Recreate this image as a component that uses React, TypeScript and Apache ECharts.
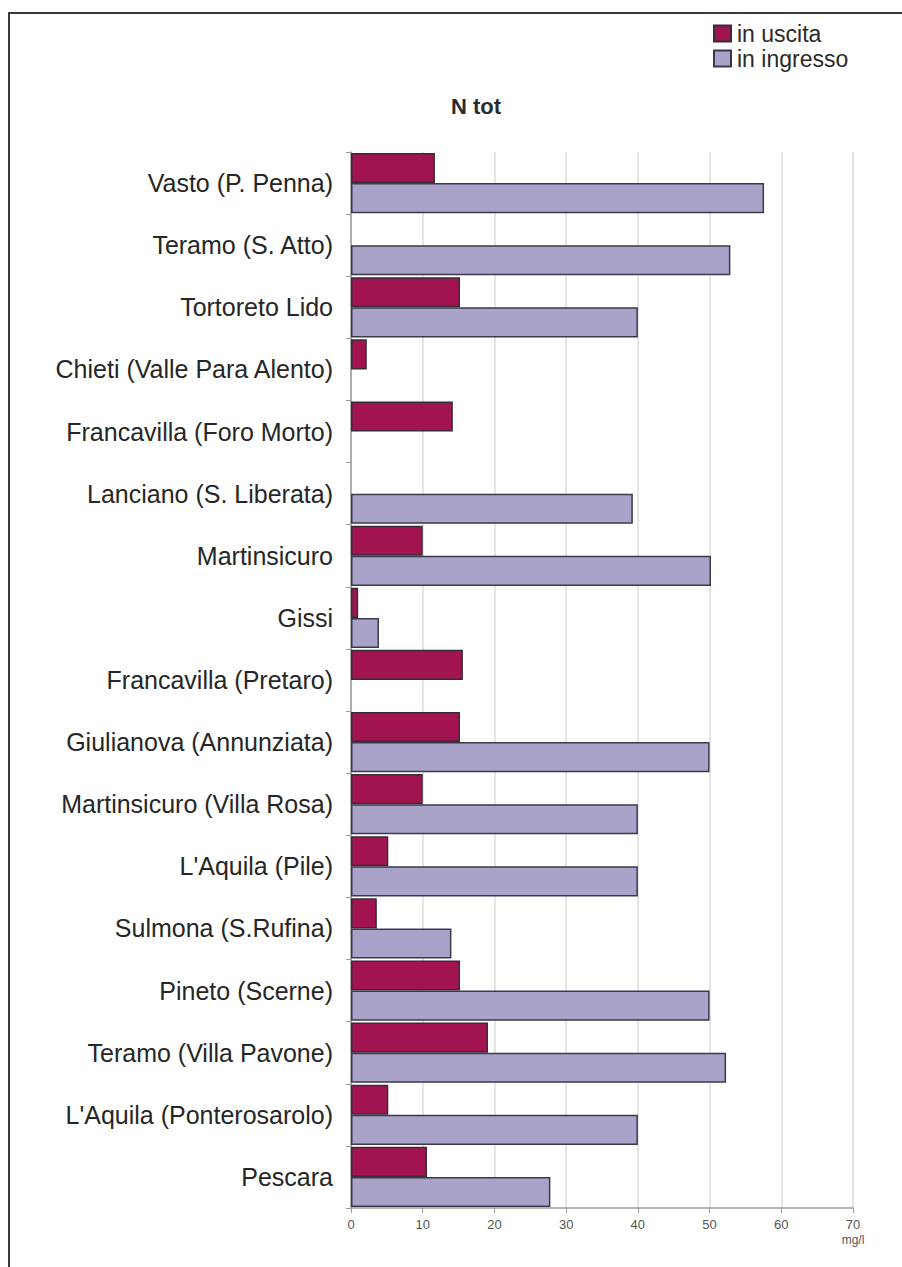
import React, { useEffect, useRef } from "react";
import * as echarts from "echarts";

const categories = [
  "Vasto (P. Penna)",
  "Teramo (S. Atto)",
  "Tortoreto Lido",
  "Chieti (Valle Para Alento)",
  "Francavilla (Foro Morto)",
  "Lanciano (S. Liberata)",
  "Martinsicuro",
  "Gissi",
  "Francavilla (Pretaro)",
  "Giulianova (Annunziata)",
  "Martinsicuro (Villa Rosa)",
  "L'Aquila (Pile)",
  "Sulmona (S.Rufina)",
  "Pineto (Scerne)",
  "Teramo (Villa Pavone)",
  "L'Aquila (Ponterosarolo)",
  "Pescara",
];

const inUscita: (number | null)[] = [
  11.7, null, 15.2, 2.2, 14.2, null, 10, 1, 15.6, 15.2, 10, 5.2, 3.6, 15.2, 19.1, 5.2, 10.6,
];

const inIngresso: (number | null)[] = [
  57.6, 52.9, 40, null, null, 39.3, 50.2, 3.9, null, 50, 40, 40, 14, 50, 52.3, 40, 27.8,
];

const xTicks = [0, 10, 20, 30, 40, 50, 60, 70];

const FONT = "'Liberation Sans', Arial, sans-serif";

export default function App() {
  const ref = useRef<HTMLDivElement>(null);

  useEffect(() => {
    if (!ref.current) return;
    const chart = echarts.init(ref.current, null, { renderer: "svg" });
    chart.setOption({
      animation: false,
      backgroundColor: "#ffffff",
      textStyle: { fontFamily: FONT },
      title: {
        text: "N tot",
        left: 446,
        top: 90,
        textStyle: { fontFamily: FONT, fontSize: 22, fontWeight: "bold", color: "#2a2a2a" },
      },
      legend: {
        orient: "vertical",
        left: 713,
        top: 22,
        padding: 0,
        itemWidth: 17,
        itemHeight: 16,
        itemGap: 2,
        icon: "rect",
        textStyle: {
          fontFamily: FONT,
          fontSize: 23,
          lineHeight: 20,
          color: "#2a2a2a",
          padding: [0, 0, 0, 1],
        },
        data: ["in uscita", "in ingresso"],
      },
      graphic: [
        {
          type: "polyline",
          shape: { points: [[9, 1300], [9, 13], [1000, 13]] },
          style: { stroke: "#3a3a3a", lineWidth: 2, fill: "none" },
          silent: true,
        },
      ],
      grid: { left: 351, right: 49, top: 152, bottom: 59, containLabel: false },
      xAxis: {
        type: "value",
        min: 0,
        max: 70,
        interval: 10,
        axisLine: { show: true, lineStyle: { color: "#9a9a9a", width: 1.5 } },
        axisTick: { show: true, length: 5, lineStyle: { color: "#9a9a9a" } },
        splitLine: { show: true, lineStyle: { color: "#dcdcdc", width: 1.5 } },
        axisLabel: {
          fontFamily: FONT,
          fontSize: 13,
          color: "#555",
          margin: 10,
          formatter: (v: number) => (xTicks.includes(v) ? String(v) : ""),
        },
        name: "mg/l",
        nameLocation: "end",
        nameGap: 0,
        nameTextStyle: {
          fontFamily: FONT,
          fontSize: 12,
          color: "#555",
          align: "center",
          verticalAlign: "top",
          padding: [26, 0, 0, 0],
        },
      },
      yAxis: {
        type: "category",
        inverse: true,
        data: categories,
        axisLine: { show: true, lineStyle: { color: "#9a9a9a", width: 1.5 } },
        axisTick: { show: true, length: 5, lineStyle: { color: "#9a9a9a" } },
        axisLabel: {
          fontFamily: FONT,
          fontSize: 25,
          color: "#262626",
          margin: 18,
        },
      },
      series: [
        {
          name: "in uscita",
          type: "bar",
          data: inUscita,
          barGap: "0%",
          barCategoryGap: "3%",
          itemStyle: { color: "#a11450", borderColor: "#3a2a3a", borderWidth: 1.5 },
        },
        {
          name: "in ingresso",
          type: "bar",
          data: inIngresso,
          barGap: "0%",
          barCategoryGap: "3%",
          itemStyle: { color: "#a9a3c9", borderColor: "#3a3a4a", borderWidth: 1.5 },
        },
      ],
    });
    return () => chart.dispose();
  }, []);

  return (
    <div
      ref={ref}
      style={{ position: "absolute", left: 0, top: 0, width: 902, height: 1267 }}
    />
  );
}
